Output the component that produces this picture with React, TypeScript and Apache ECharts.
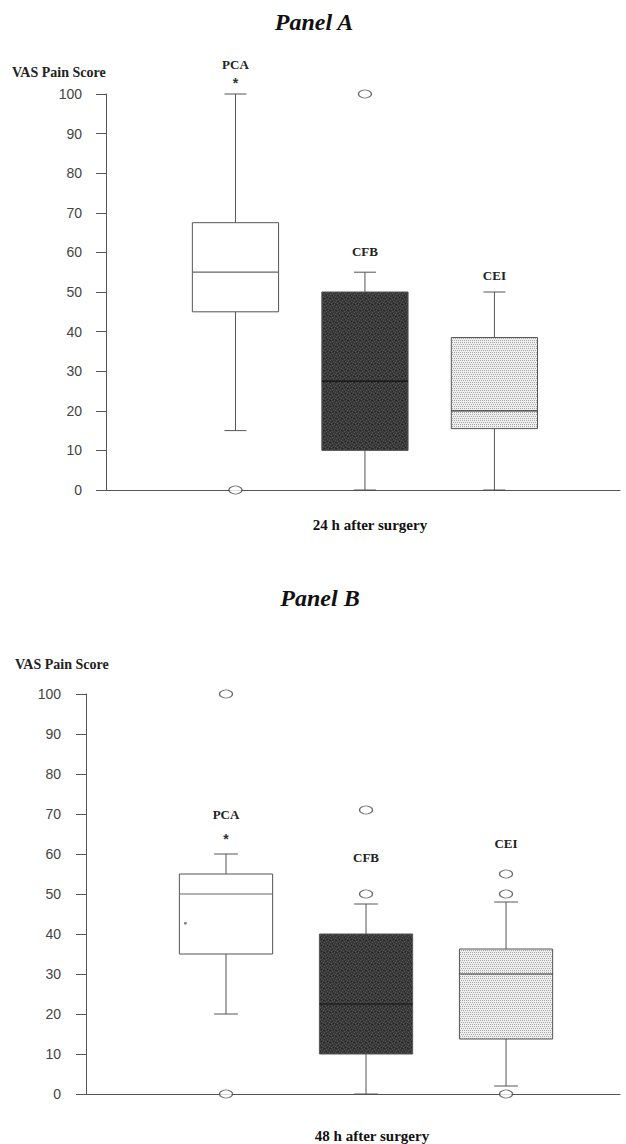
import React, { useEffect, useRef } from "react";
import * as echarts from "echarts";

// ---- data ----
const groups = ["PCA", "CFB", "CEI"];
const yTicks = [0, 10, 20, 30, 40, 50, 60, 70, 80, 90, 100];

// Panel A: 24 h after surgery
const a24Min = [15, 0, 0];
const a24Q1 = [45, 10, 15.5];
const a24Median = [55, 27.5, 20];
const a24Q3 = [67.5, 50, 38.5];
const a24Max = [100, 55, 50];
const a24Outliers: [number, number][] = [
  [0, 0],
  [1, 100],
];
const a24Asterisk = [0]; // group index with significance mark

// Panel B: 48 h after surgery
const b48Min = [20, 0, 2];
const b48Q1 = [35, 10, 13.75];
const b48Median = [50, 22.5, 30];
const b48Q3 = [55, 40, 36.25];
const b48Max = [60, 47.5, 48];
const b48Outliers: [number, number][] = [
  [0, 100],
  [0, 0],
  [1, 71],
  [1, 50],
  [2, 55],
  [2, 50],
  [2, 0],
];
const b48Mean: [number, number][] = [[-0.29, 42.7]]; // small dot in PCA box (offset from centre, value)
const b48Asterisk = [0];

// ---- styles / layout (not data) ----
const LINE = "#555";
const SERIF = "'Liberation Serif', 'DejaVu Serif', serif";
const SANS = "'Liberation Sans', Arial, sans-serif";

function makePattern(kind: "dark" | "dots") {
  const c = document.createElement("canvas");
  const n = 6;
  c.width = n;
  c.height = n;
  const ctx = c.getContext("2d")!;
  if (kind === "dark") {
    ctx.fillStyle = "#3a3a3a";
    ctx.fillRect(0, 0, n, n);
    ctx.fillStyle = "#555";
    [[0, 0], [3, 1], [1, 3], [4, 4], [2, 5], [5, 2]].forEach(([x, y]) => ctx.fillRect(x, y, 1, 1));
    ctx.fillStyle = "#262626";
    [[2, 1], [5, 4], [0, 4], [3, 3]].forEach(([x, y]) => ctx.fillRect(x, y, 1, 1));
  } else {
    ctx.fillStyle = "#eeeeee";
    ctx.fillRect(0, 0, n, n);
    ctx.fillStyle = "#a8a8a8";
    for (let y = 0; y < n; y += 2)
      for (let x = (y / 2) % 2; x < n; x += 2) ctx.fillRect(x, y, 1, 1);
  }
  return { image: c, repeat: "repeat", imageWidth: n, imageHeight: n } as any;
}

export default function App() {
  const ref = useRef<HTMLDivElement>(null);

  useEffect(() => {
    if (!ref.current) return;
    const chart = echarts.init(ref.current, undefined, { renderer: "svg", width: 626, height: 1144 });

    const fills = ["#ffffff", makePattern("dark"), makePattern("dots")];
    const medianColors = ["#666", "#111", "#333"];
    const HALF_BOX = 0.333;
    const HALF_CAP = 0.085;

    const boxRender = (params: any, api: any) => {
      const gi = api.value(0);
      const x = gi + 1;
      const mn = api.value(1), q1 = api.value(2), md = api.value(3), q3 = api.value(4), mx = api.value(5);
      const tl = api.coord([x - HALF_BOX, q3]);
      const br = api.coord([x + HALF_BOX, q1]);
      const c = (v: number) => api.coord([x, v]);
      const l = (v: number, h: number) => api.coord([x - h, v]);
      const r = (v: number, h: number) => api.coord([x + h, v]);
      const ls = { stroke: LINE, lineWidth: 1 };
      return {
        type: "group",
        children: [
          { type: "line", shape: { x1: c(q3)[0], y1: c(q3)[1], x2: c(mx)[0], y2: c(mx)[1] }, style: ls },
          { type: "line", shape: { x1: l(mx, HALF_CAP)[0], y1: c(mx)[1], x2: r(mx, HALF_CAP)[0], y2: c(mx)[1] }, style: ls },
          { type: "line", shape: { x1: c(q1)[0], y1: c(q1)[1], x2: c(mn)[0], y2: c(mn)[1] }, style: ls },
          { type: "line", shape: { x1: l(mn, HALF_CAP)[0], y1: c(mn)[1], x2: r(mn, HALF_CAP)[0], y2: c(mn)[1] }, style: ls },
          {
            type: "rect",
            shape: { x: tl[0], y: tl[1], width: br[0] - tl[0], height: br[1] - tl[1] },
            style: { fill: fills[gi], stroke: LINE, lineWidth: 1 },
          },
          {
            type: "line",
            shape: { x1: tl[0], y1: c(md)[1], x2: br[0], y2: c(md)[1] },
            style: { stroke: medianColors[gi], lineWidth: 1.2 },
          },
        ],
      };
    };

    const labelRender = (offsets: number[], starOffsets: (number | null)[]) => (params: any, api: any) => {
      const gi = api.value(0);
      const top = api.coord([gi + 1, api.value(1)]);
      const children: any[] = [
        {
          type: "text",
          style: {
            x: top[0],
            y: top[1] - offsets[gi],
            text: groups[gi],
            align: "center",
            verticalAlign: "middle",
            font: `bold 13px ${SERIF}`,
            fill: "#222",
          },
        },
      ];
      const so = starOffsets[gi];
      if (so != null) {
        children.push({
          type: "text",
          style: {
            x: top[0],
            y: top[1] - so,
            text: "*",
            align: "center",
            verticalAlign: "middle",
            font: `bold 14px ${SANS}`,
            fill: "#333",
          },
        });
      }
      return { type: "group", children };
    };

    const boxData = (mn: number[], q1: number[], md: number[], q3: number[], mx: number[]) =>
      groups.map((_, i) => [i, mn[i], q1[i], md[i], q3[i], mx[i]]);

    const topData = (mx: number[]) => groups.map((_, i) => [i, mx[i]]);

    const outlierData = (o: [number, number][]) => o.map(([g, v]) => [g + 1, v]);

    const yAxisBase = (gridIndex: number, margin: number) => ({
      type: "value",
      gridIndex,
      min: yTicks[0],
      max: yTicks[yTicks.length - 1],
      interval: yTicks[1] - yTicks[0],
      axisLine: { show: true, lineStyle: { color: LINE, width: 1 } },
      axisTick: { show: true, inside: false, length: 10, lineStyle: { color: LINE } },
      axisLabel: { margin, fontFamily: SANS, fontSize: 14, color: "#444" },
      splitLine: { show: false },
    });
    const xAxisBase = (gridIndex: number, max: number) => ({
      type: "value",
      gridIndex,
      min: 0,
      max,
      axisLine: { show: true, onZero: false, lineStyle: { color: LINE, width: 1 } },
      axisTick: { show: false },
      axisLabel: { show: false },
      splitLine: { show: false },
    });

    const scatterStyle = {
      symbol: "circle",
      symbolSize: [13, 8],
      itemStyle: { color: "#fff", borderColor: "#444", borderWidth: 1 },
    };

    chart.setOption({
      animation: false,
      backgroundColor: "#fff",
      grid: [
        { left: 106, right: 6, top: 94, height: 396 },
        { left: 86, right: 6, top: 694, height: 400 },
      ],
      xAxis: [xAxisBase(0, 3.97), xAxisBase(1, 3.814)],
      yAxis: [yAxisBase(0, 24), yAxisBase(1, 25)],
      graphic: [
        { type: "text", x: 314, y: 22, style: { text: "Panel A", align: "center", verticalAlign: "middle", font: `italic bold 24px ${SERIF}`, fill: "#111" } },
        { type: "text", x: 320, y: 598, style: { text: "Panel B", align: "center", verticalAlign: "middle", font: `italic bold 24px ${SERIF}`, fill: "#111" } },
        { type: "text", x: 12, y: 72, style: { text: "VAS Pain Score", align: "left", verticalAlign: "middle", font: `bold 14px ${SERIF}`, fill: "#222" } },
        { type: "text", x: 15, y: 664, style: { text: "VAS Pain Score", align: "left", verticalAlign: "middle", font: `bold 14px ${SERIF}`, fill: "#222" } },
        { type: "text", x: 370, y: 525, style: { text: "24 h after surgery", align: "center", verticalAlign: "middle", font: `bold 15px ${SERIF}`, fill: "#111" } },
        { type: "text", x: 372, y: 1136, style: { text: "48 h after surgery", align: "center", verticalAlign: "middle", font: `bold 15px ${SERIF}`, fill: "#111" } },
      ],
      series: [
        {
          type: "custom",
          xAxisIndex: 0,
          yAxisIndex: 0,
          renderItem: boxRender,
          data: boxData(a24Min, a24Q1, a24Median, a24Q3, a24Max),
          z: 2,
        },
        {
          type: "scatter",
          xAxisIndex: 0,
          yAxisIndex: 0,
          data: outlierData(a24Outliers),
          ...scatterStyle,
          z: 3,
        },
        {
          type: "custom",
          xAxisIndex: 0,
          yAxisIndex: 0,
          renderItem: labelRender([30, 21, 17], groups.map((_, i) => (a24Asterisk.includes(i) ? 11 : null))),
          data: topData(a24Max),
          z: 4,
        },
        {
          type: "custom",
          xAxisIndex: 1,
          yAxisIndex: 1,
          renderItem: boxRender,
          data: boxData(b48Min, b48Q1, b48Median, b48Q3, b48Max),
          z: 2,
        },
        {
          type: "scatter",
          xAxisIndex: 1,
          yAxisIndex: 1,
          data: outlierData(b48Outliers),
          ...scatterStyle,
          z: 3,
        },
        {
          type: "scatter",
          xAxisIndex: 1,
          yAxisIndex: 1,
          data: b48Mean.map(([dx, v]) => [1 + dx, v]),
          symbol: "circle",
          symbolSize: 3,
          itemStyle: { color: "#666" },
          z: 3,
        },
        {
          type: "custom",
          xAxisIndex: 1,
          yAxisIndex: 1,
          renderItem: labelRender([40, 47, 59], groups.map((_, i) => (b48Asterisk.includes(i) ? 15 : null))),
          data: topData(b48Max),
          z: 4,
        },
      ],
    });

    return () => chart.dispose();
  }, []);

  return (
    <div
      ref={ref}
      style={{ position: "absolute", left: 0, top: 0, width: 626, height: 1144, background: "#fff" }}
    />
  );
}
